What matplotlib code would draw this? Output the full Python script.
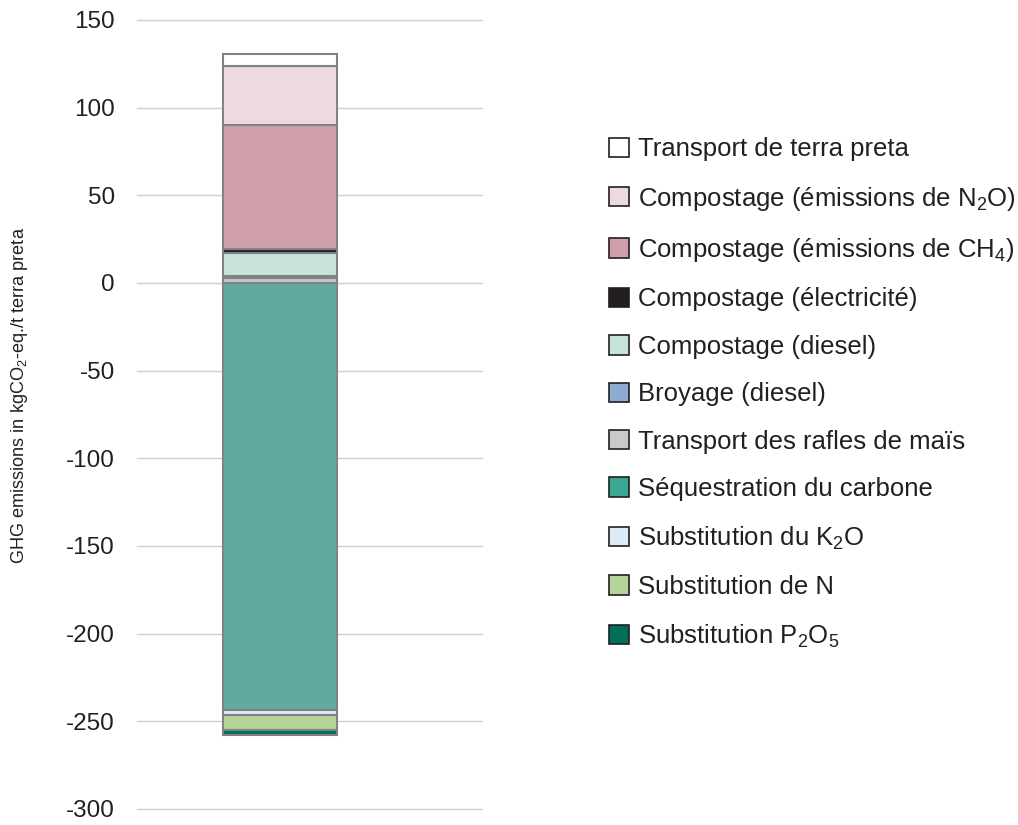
import numpy as np
import matplotlib
matplotlib.use("Agg")
import matplotlib.pyplot as plt
from matplotlib.patches import Patch

# ── Data ──────────────────────────────────────────────────────────────────────

# positive contributions, stacked from 0 upwards
pos_labels = ["Transport des rafles de maïs", "Broyage (diesel)", "Compostage (diesel)",
              "Compostage (électricité)", "Compostage (émissions de CH$_4$)",
              "Compostage (émissions de N$_2$O)", "Transport de terra preta"]
pos_values = [2.7, 1.3, 13.0, 2.5, 70.5, 33.5, 7.0]
pos_colors = ["#c9c9c9", "#8eabd2", "#c8e3dc", "#231f20", "#d0a0aa", "#ecdadf", "#ffffff"]

# negative contributions, stacked from 0 downwards
neg_labels = ["Séquestration du carbone", "Substitution du K$_2$O", "Substitution de N",
              "Substitution P$_2$O$_5$"]
neg_values = [-243.6, -2.8, -8.6, -3.0]
neg_colors = ["#62a99f", "#dcebf5", "#b5d49a", "#00705a"]
neg_legend_colors = ["#3aa795", "#dcebf5", "#b5d49a", "#00705a"]

yticks = [150, 100, 50, 0, -50, -100, -150, -200, -250, -300]

# ── Plot ──────────────────────────────────────────────────────────────────────

plt.rcParams.update({
    "font.family": ["Liberation Sans", "DejaVu Sans"],
    "mathtext.fontset": "custom",
    "mathtext.rm": "Liberation Sans",
    "mathtext.it": "Liberation Sans:italic",
    "mathtext.bf": "Liberation Sans:bold",
})

fig = plt.figure(figsize=(10.18, 8.25), dpi=100)
ax = fig.add_axes([0.1346, 0.0194, 0.339, 0.9564])

EDGE = "#808285"
bottom = 0.0
for v, c in zip(pos_values, pos_colors):
    ax.bar(0, v, bottom=bottom, width=1.0, color=c, edgecolor=EDGE, linewidth=1.5, zorder=3)
    bottom += v
bottom = 0.0
for v, c in zip(neg_values, neg_colors):
    ax.bar(0, v, bottom=bottom, width=1.0, color=c, edgecolor=EDGE, linewidth=1.5, zorder=3)
    bottom += v

ax.set_xlim(-1.25, 1.77)
ax.set_ylim(-300, 150)
ax.set_yticks(yticks)
ax.set_yticklabels([str(t) for t in yticks], fontsize=17.5, color="#231f20")
ax.set_xticks([])
ax.tick_params(axis="y", length=0, pad=16)
ax.grid(True, axis="y", color="#d0d0d0", linewidth=1.0, zorder=0)
for gl in ax.get_ygridlines():
    gl.set_clip_on(False)
for s in ax.spines.values():
    s.set_visible(False)

fig.text(0.019, 0.521, "GHG emissions in kgCO$_2$-eq./t terra preta", rotation=90,
         ha="center", va="center", fontsize=13.1, color="#231f20")

# legend, top to bottom
labels = list(reversed(pos_labels)) + neg_labels
colors = list(reversed(pos_colors)) + neg_legend_colors
handles = [Patch(facecolor=c, edgecolor="#231f20", linewidth=1.2) for c in colors]
fig.legend(handles, labels, loc="upper left", bbox_to_anchor=(0.588, 0.846),
           frameon=False, fontsize=18.5, handlelength=0.78, handleheight=0.78,
           handletextpad=0.35, labelspacing=0.91, labelcolor="#231f20", borderaxespad=0)

fig.savefig("out.png", dpi=100, facecolor="white")
